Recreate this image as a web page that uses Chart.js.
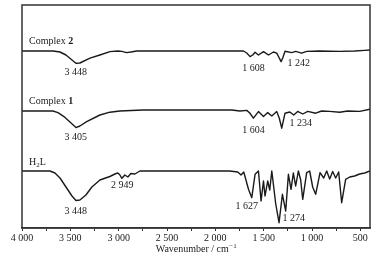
<!DOCTYPE html>
<html>
<head>
<meta charset="utf-8">
<script src="https://cdn.jsdelivr.net/npm/chart.js@4/dist/chart.umd.min.js"></script>
<style>
  html, body { margin: 0; padding: 0; background: #fff; }
</style>
</head>
<body>
<canvas id="ir" width="384" height="262"></canvas>
<script>
// IR spectra, wavenumber in cm-1, transmittance in a.u. (traces stacked)
const complex2Wn = [4000, 3680, 3607, 3545, 3483, 3442, 3401, 3297, 3194, 3091, 3008, 2967, 2918, 2874, 2812, 1709, 1675, 1641, 1613, 1589, 1554, 1502, 1450, 1399, 1365, 1344, 1320, 1303, 1279, 1210, 1169, 1107, 1055, 921, 714, 559, 455, 400];
const complex2T = [88.5, 88.5, 88, 86.5, 84, 82.4, 82.5, 84.9, 86.5, 88.2, 88.5, 88.3, 87.7, 88, 88.5, 88.5, 87.5, 85.7, 86.5, 87.9, 86.5, 88.2, 86.5, 88, 87.4, 85.5, 83.2, 85, 88.4, 87.7, 88.3, 87.4, 88.3, 88.5, 88.3, 88.5, 88.8, 89];

const complex1Wn = [4000, 3680, 3628, 3566, 3504, 3442, 3401, 3331, 3194, 3091, 2987, 2750, 1830, 1747, 1675, 1644, 1606, 1554, 1502, 1458, 1416, 1365, 1339, 1313, 1279, 1230, 1189, 1148, 1096, 1044, 962, 900, 817, 714, 631, 507, 400];
const complex1T = [58.5, 58.5, 57.7, 55.7, 53, 50.2, 51, 53.2, 56.5, 57.9, 58.5, 59, 59, 58.5, 58.8, 57.5, 54.9, 58.2, 55.7, 57.7, 56, 58.2, 55, 49.9, 57.4, 58, 56.5, 58.3, 57, 58.3, 57.4, 58.5, 58.3, 57.9, 58.5, 58.3, 59.4];

const h2lWn = [4000, 3711, 3659, 3607, 3545, 3483, 3442, 3401, 3339, 3277, 3194, 3091, 3039, 3008, 2987, 2967, 2936, 2905, 2874, 2832, 2781, 1851, 1768, 1734, 1706, 1657, 1623, 1589, 1554, 1527, 1502, 1486, 1458, 1437, 1416, 1375, 1341, 1306, 1272, 1244, 1217, 1193, 1169, 1141, 1117, 1096, 1055, 1024, 993, 962, 917, 879, 848, 817, 786, 755, 724, 693, 652, 610, 559, 507, 455, 400];
const h2lT = [28.5, 28.5, 27.5, 25, 20.5, 16, 13.75, 14, 16.5, 20.5, 24, 25.75, 27, 27.5, 26.5, 24.85, 26.5, 25.5, 27.25, 27, 28.5, 28.5, 28, 26.5, 28, 19.35, 15.15, 26.85, 28.5, 13.5, 23.5, 16, 23.5, 19, 28.5, 12, 2.65, 16.85, 8.5, 26.85, 19.35, 27.5, 21, 28.5, 24, 14.35, 27.65, 28.5, 20.5, 16.85, 27.65, 25, 28.5, 24.5, 28.25, 25, 28, 12.65, 24.35, 25.5, 26, 27, 27.5, 28.5];

// x axis ticks (major labelled every 500, minor every 250)
const xTicks = [500, 750, 1000, 1250, 1500, 1750, 2000, 2250, 2500, 2750, 3000, 3250, 3500, 3750, 4000];

// peak labels: text, wavenumber, y value, alignment
const peakLabels = [
  { text: "3 448", wn: 3445, y: 77.9, align: "center" },
  { text: "1 608", wn: 1606, y: 79.9, align: "center" },
  { text: "1 242", wn: 1254, y: 82.4, align: "left" },
  { text: "3 405", wn: 3445, y: 45.2, align: "center" },
  { text: "1 604", wn: 1606, y: 49, align: "center" },
  { text: "1 234", wn: 1234, y: 52.4, align: "left" },
  { text: "2 949", wn: 2964, y: 21.5, align: "center" },
  { text: "3 448", wn: 3445, y: 8.5, align: "center" },
  { text: "1 627", wn: 1675, y: 11, align: "center" },
  { text: "1 274", wn: 1306, y: 4.9, align: "left" },
];

const FONT = '"Liberation Serif", "DejaVu Serif", serif';
const INK = "#1a1a1a";

function pts(wn, t) {
  return wn.map((w, i) => ({ x: w, y: t[i] }));
}

function fmtWn(v) {
  if (v % 500 !== 0) return "";
  if (v < 1000) return String(v);
  return Math.floor(v / 1000) + " " + String(v % 1000).padStart(3, "0");
}

const dsStyle = {
  borderColor: INK,
  borderWidth: 1.4,
  borderJoinStyle: "round",
  borderCapStyle: "round",
  pointRadius: 0,
  tension: 0,
  fill: false,
};

// frame around plot + text labels
const decorations = {
  id: "decorations",
  afterDraw(chart) {
    const { ctx, chartArea: a, scales } = chart;
    const sx = scales.x, sy = scales.y;
    ctx.save();
    ctx.strokeStyle = "#333";
    ctx.lineWidth = 1.5;
    ctx.strokeRect(a.left, a.top, a.right - a.left, a.bottom - a.top);

    ctx.fillStyle = INK;
    ctx.textBaseline = "middle";
    ctx.font = "10px " + FONT;

    peakLabels.forEach((p) => {
      ctx.textAlign = p.align;
      ctx.fillText(p.text, sx.getPixelForValue(p.wn), sy.getPixelForValue(p.y));
    });

    // trace names
    ctx.textAlign = "left";
    const nameX = sx.getPixelForValue(3928);
    const names = [
      { label: "Complex ", num: "2", y: 93.3 },
      { label: "Complex ", num: "1", y: 63.5 },
    ];
    names.forEach((n) => {
      const py = sy.getPixelForValue(n.y);
      ctx.font = "10px " + FONT;
      ctx.fillText(n.label, nameX, py);
      const w = ctx.measureText(n.label).width;
      ctx.font = "bold 10px " + FONT;
      ctx.fillText(n.num, nameX + w, py);
    });

    // H2L with subscript
    let hy = sy.getPixelForValue(32.7);
    ctx.font = "10px " + FONT;
    ctx.fillText("H", nameX, hy);
    let hx = nameX + ctx.measureText("H").width;
    ctx.font = "7px " + FONT;
    ctx.fillText("2", hx, hy + 3);
    hx += ctx.measureText("2").width;
    ctx.font = "10px " + FONT;
    ctx.fillText("L", hx, hy);

    // axis title with superscript
    const title = "Wavenumber / cm";
    const sup = "\u22121";
    ctx.font = "10px " + FONT;
    const tw = ctx.measureText(title).width;
    ctx.font = "7px " + FONT;
    const sw = ctx.measureText(sup).width;
    const tx = (a.left + a.right) / 2 - (tw + sw) / 2;
    const ty = sx.bottom - 13;
    ctx.font = "10px " + FONT;
    ctx.fillText(title, tx, ty);
    ctx.font = "7px " + FONT;
    ctx.fillText(sup, tx + tw + 0.5, ty - 3);
    ctx.restore();
  },
};

new Chart(document.getElementById("ir"), {
  type: "line",
  data: {
    datasets: [
      { label: "Complex 2", data: pts(complex2Wn, complex2T), ...dsStyle },
      { label: "Complex 1", data: pts(complex1Wn, complex1T), ...dsStyle },
      { label: "H2L", data: pts(h2lWn, h2lT), ...dsStyle },
    ],
  },
  options: {
    responsive: false,
    animation: false,
    devicePixelRatio: 1,
    layout: { padding: { left: 22, right: 14, top: 5, bottom: 0 } },
    plugins: { legend: { display: false }, tooltip: { enabled: false } },
    scales: {
      x: {
        type: "linear",
        reverse: true,
        min: 400,
        max: 4000,
        afterBuildTicks: (s) => {
          s.ticks = xTicks.map((v) => ({ value: v }));
        },
        afterFit: (s) => {
          s.height = 34;
        },
        border: { display: true, color: "#333", width: 1.5 },
        grid: {
          drawOnChartArea: false,
          drawTicks: true,
          tickLength: 3,
          color: "#333",
          lineWidth: 1,
        },
        ticks: {
          autoSkip: false,
          maxRotation: 0,
          padding: 1,
          color: INK,
          font: { family: FONT, size: 10 },
          callback: (v) => fmtWn(v),
        },
      },
      y: {
        display: false,
        min: 0,
        max: 111.5,
      },
    },
  },
  plugins: [decorations],
});
</script>
</body>
</html>
